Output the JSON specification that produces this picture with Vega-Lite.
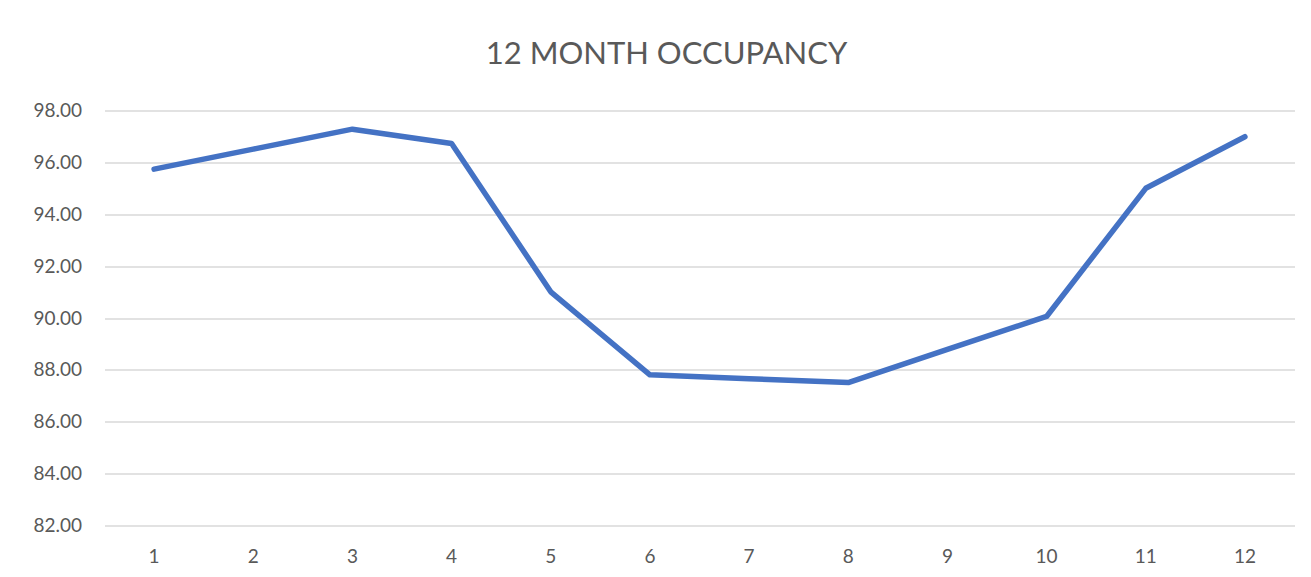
{
  "$schema": "https://vega.github.io/schema/vega-lite/v6.json",
  "width": 1190,
  "height": 415,
  "autosize": {"type": "none"},
  "padding": {"left": 104.5, "top": 110.5, "right": 16.5, "bottom": 51.5},
  "background": "white",
  "title": {
    "text": "12 MONTH OCCUPANCY",
    "font": "Lato",
    "fontSize": 31,
    "fontWeight": "normal",
    "color": "#595959",
    "anchor": "middle",
    "dx": -33,
    "offset": 31
  },
  "data": {
    "values": [
      {"month": "1", "occupancy": 95.74},
      {"month": "2", "occupancy": 96.51},
      {"month": "3", "occupancy": 97.28},
      {"month": "4", "occupancy": 96.73},
      {"month": "5", "occupancy": 91.01},
      {"month": "6", "occupancy": 87.81},
      {"month": "7", "occupancy": 87.66},
      {"month": "8", "occupancy": 87.51},
      {"month": "9", "occupancy": 88.79},
      {"month": "10", "occupancy": 90.06},
      {"month": "11", "occupancy": 95.0},
      {"month": "12", "occupancy": 96.99}
    ]
  },
  "mark": {"type": "line", "color": "#4472C4", "strokeWidth": 5.5, "strokeCap": "round", "strokeJoin": "round"},
  "encoding": {
    "x": {
      "field": "month",
      "type": "ordinal",
      "sort": null,
      "scale": {"type": "band", "paddingInner": 0, "paddingOuter": 0},
      "axis": {
        "title": null,
        "labelAngle": 0,
        "domain": false,
        "ticks": false,
        "grid": false,
        "labelFont": "Lato",
        "labelFontSize": 19,
        "labelColor": "#595959",
        "labelPadding": 22
      }
    },
    "y": {
      "field": "occupancy",
      "type": "quantitative",
      "scale": {"domain": [82, 98], "nice": false, "zero": false},
      "axis": {
        "title": null,
        "values": [82, 84, 86, 88, 90, 92, 94, 96, 98],
        "format": ".2f",
        "domain": false,
        "ticks": false,
        "grid": true,
        "gridColor": "#d9d9d9",
        "gridWidth": 1.5,
        "labelFont": "Lato",
        "labelFontSize": 19,
        "labelColor": "#595959",
        "labelPadding": 23
      }
    }
  },
  "config": {"view": {"stroke": null}}
}
